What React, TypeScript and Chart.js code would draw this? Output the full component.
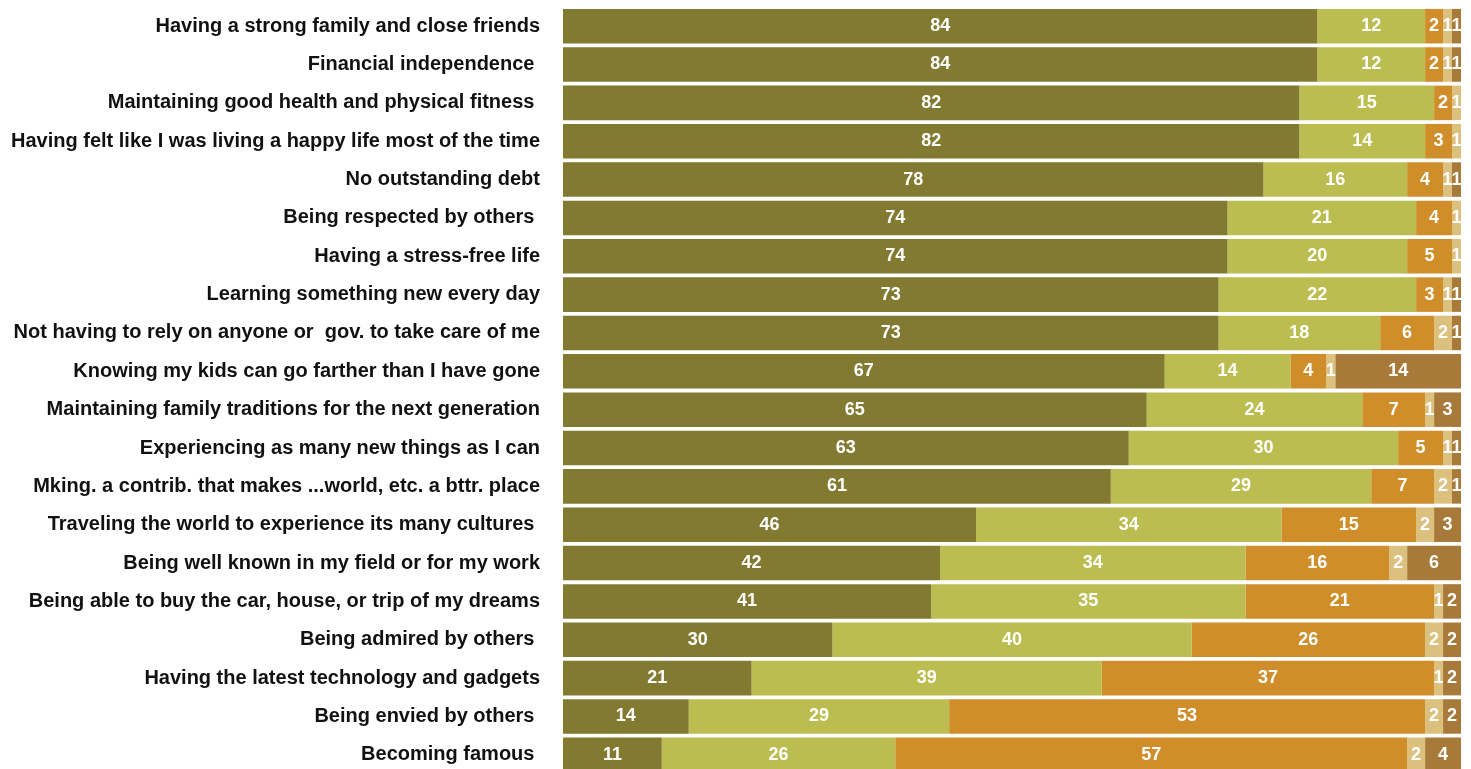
import React, { useEffect, useRef } from "react";
import { Chart, registerables } from "chart.js";

Chart.register(...registerables);

const categories = [
  "Having a strong family and close friends",
  "Financial independence ",
  "Maintaining good health and physical fitness ",
  "Having felt like I was living a happy life most of the time",
  "No outstanding debt",
  "Being respected by others ",
  "Having a stress-free life",
  "Learning something new every day",
  "Not having to rely on anyone or  gov. to take care of me",
  "Knowing my kids can go farther than I have gone",
  "Maintaining family traditions for the next generation",
  "Experiencing as many new things as I can",
  "Mking. a contrib. that makes ...world, etc. a bttr. place",
  "Traveling the world to experience its many cultures ",
  "Being well known in my field or for my work",
  "Being able to buy the car, house, or trip of my dreams",
  "Being admired by others ",
  "Having the latest technology and gadgets",
  "Being envied by others ",
  "Becoming famous ",
];

const series1 = [84, 84, 82, 82, 78, 74, 74, 73, 73, 67, 65, 63, 61, 46, 42, 41, 30, 21, 14, 11];
const series2 = [12, 12, 15, 14, 16, 21, 20, 22, 18, 14, 24, 30, 29, 34, 34, 35, 40, 39, 29, 26];
const series3 = [2, 2, 2, 3, 4, 4, 5, 3, 6, 4, 7, 5, 7, 15, 16, 21, 26, 37, 53, 57];
const series4 = [1, 1, 1, 1, 1, 1, 1, 1, 2, 1, 1, 1, 2, 2, 2, 1, 2, 1, 2, 2];
const series5 = [1, 1, 0, 0, 1, 0, 0, 1, 1, 14, 3, 1, 1, 3, 6, 2, 2, 2, 2, 4];

const seriesNames = ["Series 1", "Series 2", "Series 3", "Series 4", "Series 5"];
const seriesColors = ["#827a31", "#bcbd50", "#d08e2b", "#dbc07e", "#a87a3a"];

const labelPlugin = {
  id: "segmentLabels",
  afterDatasetsDraw(chart: any) {
    const ctx = chart.ctx;
    ctx.save();
    ctx.fillStyle = "#ffffff";
    ctx.font = "bold 18px 'Liberation Sans', Arial, sans-serif";
    ctx.textAlign = "center";
    ctx.textBaseline = "middle";
    chart.data.datasets.forEach((ds: any, di: number) => {
      const meta = chart.getDatasetMeta(di);
      meta.data.forEach((el: any, i: number) => {
        const v = ds.data[i];
        if (!v) return;
        const cx = (el.x + el.base) / 2;
        ctx.fillText(String(v), cx, el.y);
      });
    });
    ctx.restore();
  },
};

export default function App() {
  const ref = useRef<HTMLCanvasElement | null>(null);
  useEffect(() => {
    if (!ref.current) return;
    const data = [series1, series2, series3, series4, series5];
    const chart = new Chart(ref.current, {
      type: "bar",
      data: {
        labels: categories,
        datasets: data.map((d, i) => ({
          label: seriesNames[i],
          data: d,
          backgroundColor: seriesColors[i],
          borderWidth: 0,
          barPercentage: 0.9,
          categoryPercentage: 1,
        })),
      },
      options: {
        indexAxis: "y",
        animation: false,
        responsive: false,
        maintainAspectRatio: false,
        layout: { padding: { top: 7, bottom: 2, left: 0, right: 10 } },
        plugins: {
          legend: { display: false },
          tooltip: { enabled: false },
        },
        scales: {
          x: {
            stacked: true,
            min: 0,
            max: 100,
            display: false,
          },
          y: {
            stacked: true,
            grid: { display: false, drawTicks: false },
            border: { display: false },
            ticks: {
              color: "#111111",
              padding: 23,
              autoSkip: false,
              font: { family: "'Liberation Sans', Arial, sans-serif", size: 20, weight: "bold" },
            },
            afterFit: (scale: any) => {
              scale.width = 563;
              scale.paddingTop = 0;
              scale.paddingBottom = 0;
            },
          },
        },
      },
      plugins: [labelPlugin],
    } as any);
    return () => chart.destroy();
  }, []);
  return (
    <div style={{ position: "fixed", left: 0, top: 0, width: 1471, height: 776, background: "#fff" }}>
      <canvas ref={ref} width={1471} height={776} style={{ width: 1471, height: 776 }} />
    </div>
  );
}
